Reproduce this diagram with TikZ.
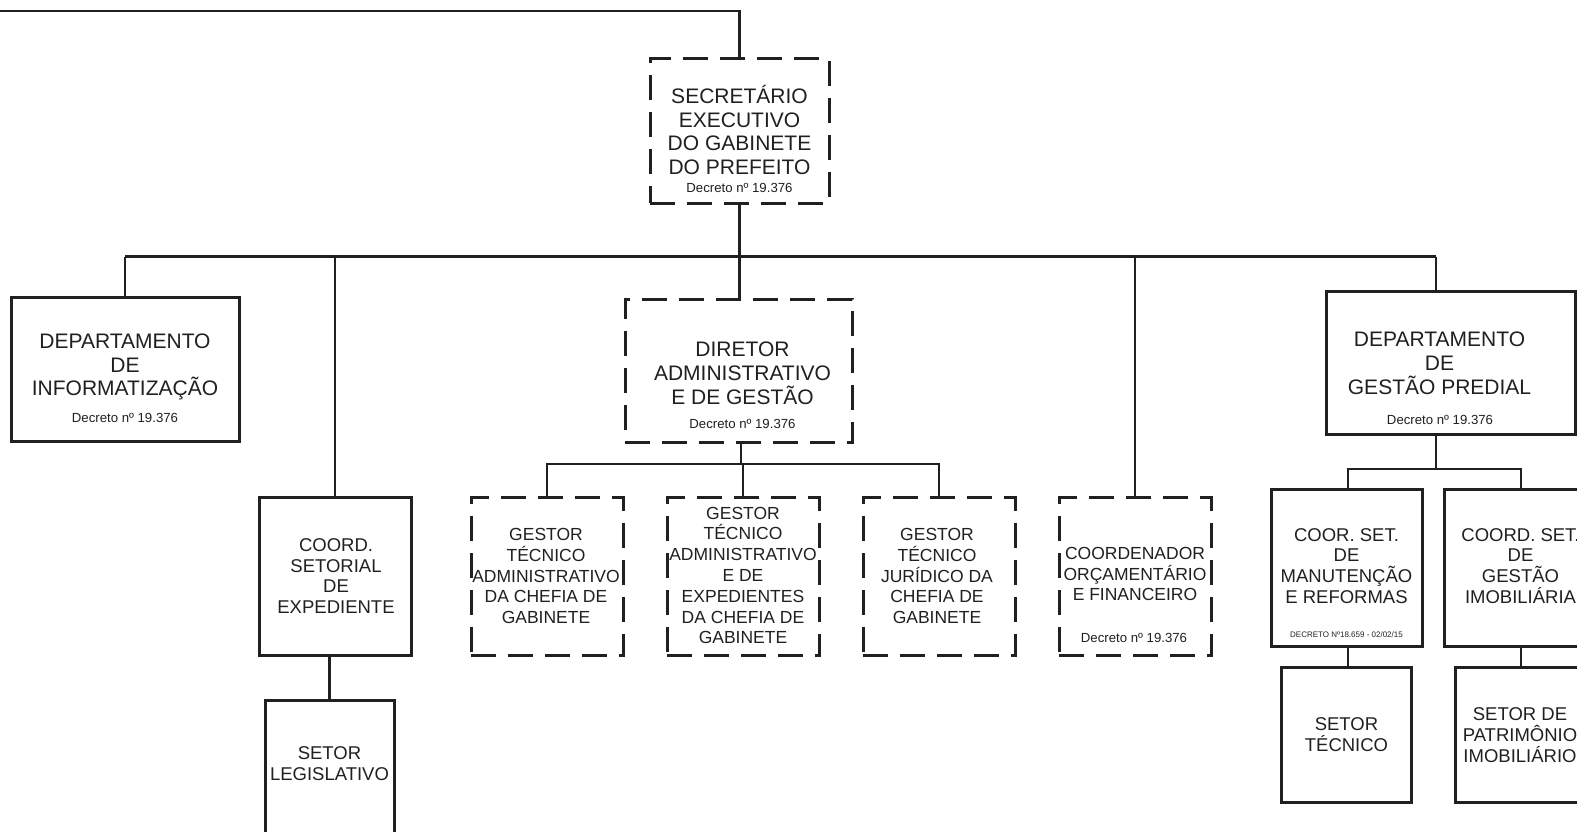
\documentclass[tikz,border=0pt]{standalone}
\usepackage{fontspec}
\setmainfont{Liberation Sans}
\usetikzlibrary{fit}
\definecolor{ink}{HTML}{231F20}
\begin{document}
\begin{tikzpicture}[x=1pt,y=-1pt,
  solidbox/.style={draw=ink, line width=3pt, inner sep=0pt},
  dashbox/.style={draw=ink, line width=3pt, dash pattern=on 25pt off 12pt, inner sep=0pt},
  link/.style={draw=ink, line width=2.8pt},
  bigtxt/.style={text=ink, inner sep=0pt, align=center, font=\fontsize{21}{23.8}\selectfont},
  midtxt/.style={text=ink, inner sep=0pt, align=center, font=\fontsize{17.5}{20.8}\selectfont},
  sectxt/.style={text=ink, inner sep=0pt, align=center, font=\fontsize{18.5}{20.8}\selectfont},
  dectxt/.style={text=ink, inner sep=0pt, font=\fontsize{13.2}{15}\selectfont},
  tinytxt/.style={text=ink, inner sep=0pt, font=\fontsize{8}{9}\selectfont}]
\useasboundingbox[fill=white] (0,0) rectangle (1577,832);

% boxes
\node[dashbox, fit={(650,59) (829,203)}] (sec) {};
\node[solidbox, fit={(11,297) (239,441)}] (inf) {};
\node[solidbox, fit={(259,497) (411,655)}] (cse) {};
\node[solidbox, fit={(265,700) (394,850)}] (leg) {};
\node[dashbox, fit={(625,299) (852,442)}] (dir) {};
\node[dashbox, fit={(471,497) (623,655)}] (g1) {};
\node[dashbox, fit={(667,497) (819,655)}] (g2) {};
\node[dashbox, fit={(863,497) (1015,655)}] (g3) {};
\node[dashbox, fit={(1059,497) (1211,655)}] (cof) {};
\node[solidbox, fit={(1326,291) (1575,434)}] (gp) {};
\node[solidbox, fit={(1271,489) (1422,646)}] (man) {};
\node[solidbox, fit={(1444,489) (1600,646)}] (gim) {};
\node[solidbox, fit={(1281,667) (1411,802)}] (tec) {};
\node[solidbox, fit={(1455,667) (1600,802)}] (pat) {};

% texts
\node[bigtxt] (secT) at (739.5,130) {SECRETÁRIO\\EXECUTIVO\\DO GABINETE\\DO PREFEITO};
\node[dectxt] (secD) at (739.5,188) {Decreto nº 19.376};
\node[bigtxt] (infT) at (125,367) {DEPARTAMENTO\\DE\\INFORMATIZAÇÃO};
\node[dectxt] (infD) at (125,418) {Decreto nº 19.376};
\node[bigtxt] (dirT) at (742.5,373) {DIRETOR\\ADMINISTRATIVO\\E DE GESTÃO};
\node[dectxt] (dirD) at (742.5,423.5) {Decreto nº 19.376};
\node[bigtxt] (gpT) at (1439.5,363) {DEPARTAMENTO\\DE\\GESTÃO PREDIAL};
\node[dectxt] (gpD) at (1440,419.5) {Decreto nº 19.376};
\node[sectxt] (cseT) at (336,576) {COORD.\\SETORIAL\\DE\\EXPEDIENTE};
\node[sectxt] (legT) at (329.5,764) {SETOR\\LEGISLATIVO};
\node[midtxt] (g1T) at (546,576) {GESTOR\\TÉCNICO\\ADMINISTRATIVO\\DA CHEFIA DE\\GABINETE};
\node[midtxt] (g2T) at (743,575.5) {GESTOR\\TÉCNICO\\ADMINISTRATIVO\\E DE\\EXPEDIENTES\\DA CHEFIA DE\\GABINETE};
\node[midtxt] (g3T) at (937,576) {GESTOR\\TÉCNICO\\JURÍDICO DA\\CHEFIA DE\\GABINETE};
\node[midtxt] (cofT) at (1135,574) {COORDENADOR\\ORÇAMENTÁRIO\\E FINANCEIRO};
\node[dectxt] (cofD) at (1134,637.5) {Decreto nº 19.376};
\node[sectxt] (manT) at (1346.5,566) {COOR. SET.\\DE\\MANUTENÇÃO\\E REFORMAS};
\node[tinytxt] (manD) at (1346.5,634.5) {DECRETO Nº18.659 - 02/02/15};
\node[sectxt] (gimT) at (1520.5,566) {COORD. SET.\\DE\\GESTÃO\\IMOBILIÁRIA};
\node[sectxt] (tecT) at (1346.5,735) {SETOR\\TÉCNICO};
\node[sectxt] (patT) at (1520,735) {SETOR DE\\PATRIMÔNIO\\IMOBILIÁRIO};

% connector coordinates
\coordinate (top) at (0,11);
\coordinate (busL) at (125,256.5);
\coordinate (busR) at (1436,256.5);
\coordinate (subD) at (741,464);
\coordinate (subP) at (1436,469);
\coordinate (pl) at (1348,469);
\coordinate (pr) at (1521,469);

% connectors
\draw[link] (top) -| (sec.north);
\draw[link] (sec.south) -- (sec.south |- dir.north);
\draw[link] (busL) -- (busR);
\draw[link] (busL) -- (inf.north);
\draw[link] (cse.north |- busL) -- (cse.north);
\draw[link] (cof.north |- busL) -- (cof.north);
\draw[link] (busR) -- (busR |- gp.north);
\draw[link] (leg.north) -- (leg.north |- cse.south);
\draw[link] (subD |- dir.south) -- (subD);
\draw[link] (g1.north) -- (g1.north |- subD) -- (g3.north |- subD) -- (g3.north);
\draw[link] (g2.north) -- (g2.north |- subD);
\draw[link] (subP |- gp.south) -- (subP);
\draw[link] (man.north -| pl) -- (pl) -- (pr) -- (pr |- gim.north);
\draw[link] (tec.north -| pl) -- (pl |- man.south);
\draw[link] (pat.north -| pr) -- (pr |- gim.south);
\end{tikzpicture}
\end{document}
